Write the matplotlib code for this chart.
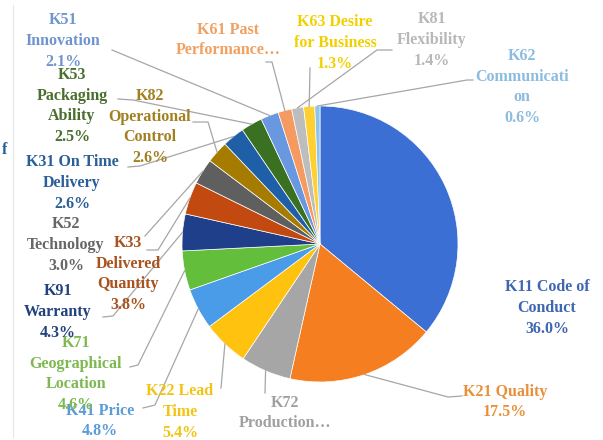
import numpy as np
import matplotlib
matplotlib.use("Agg")
import matplotlib.pyplot as plt

# ---- data (clockwise from 12 o'clock) ----
codes = ["K11", "K21", "K72", "K22", "K41", "K71", "K91", "K33", "K52",
         "K82", "K31", "K53", "K51", "K61", "K81", "K63", "K62"]
names = ["Code of\nConduct", "Quality", "\nProduction…", "Lead\nTime", "Price",
         "\nGeographical\nLocation", "\nWarranty", "\nDelivered\nQuantity",
         "\nTechnology", "\nOperational\nControl", "On Time\nDelivery",
         "\nPackaging\nAbility", "\nInnovation", "Past\nPerformance…",
         "\nFlexibility", "Desire\nfor Business", "\nCommunicati\non"]
values = [36.0, 17.5, 5.9, 5.4, 4.8, 4.6, 4.3, 3.8, 3.0,
          2.6, 2.6, 2.5, 2.1, 1.6, 1.4, 1.3, 0.6]
show_pct = [True, True, False, True, True, True, True, True, True,
            True, True, True, True, False, True, True, True]

slice_colors = ["#3B6FD4", "#F57F20", "#A6A6A6", "#FFC20E", "#4A9BE8",
                "#63BE3C", "#1F3F8A", "#C24A10", "#5F5F5F", "#A67C00",
                "#1F5FA8", "#3A7021", "#6A98E0", "#F59A60", "#BDBDBD",
                "#FFD030", "#8CC4EC"]
text_colors = ["#3F66B0", "#E8913A", "#A0A0A0", "#F2C414", "#5A9BD8",
               "#7DB851", "#22427E", "#A8521E", "#666666", "#A08020",
               "#2A5E96", "#4A6E2E", "#6F95CF", "#F0A060", "#B8B8B8",
               "#F2D000", "#8CBCE0"]

# ---- layout (pixel coordinates, y downwards) ----
W, H = 603, 440
center_px = (320, 244)
radius_px = 138
label_pos = [(547, 308), (505, 402), (285, 413), (180, 412), (100, 421),
             (76, 374), (58, 312), (128, 274), (66, 245), (150, 127),
             (72, 183), (72, 106), (63, 41), (228, 40), (432, 40),
             (335, 43), (522, 87)]
# leader line anchor points near the labels (None = no leader)
leader_pts = [None,
              [(462, 396), (448, 397)],
              [(265, 393)],
              [(221, 388)],
              [(143, 408), (155, 405)],
              [(130, 367), (138, 365)],
              [(103, 317), (113, 316)],
              [(147, 250), (158, 250)],
              [(145, 236)],
              [(193, 122), (208, 122)],
              [(128, 167), (140, 166)],
              [(118, 99), (133, 100)],
              [(112, 50)],
              [(266, 62), (272, 62)],
              [(392, 50), (377, 50)],
              [(310, 68)],
              [(473, 80), (467, 80)]]

def py(y):
    return H - y

fig = plt.figure(figsize=(W / 100, H / 100), dpi=100)
ax = fig.add_axes([0, 0, 1, 1])
cx, cy = center_px[0], py(center_px[1])
wedges, _ = ax.pie(values, colors=slice_colors, startangle=90, counterclock=False,
                   center=(cx, cy), radius=radius_px,
                   wedgeprops=dict(edgecolor="white", linewidth=0.5))
ax.set_xlim(0, W)
ax.set_ylim(0, H)
ax.set_aspect("equal")
ax.axis("off")

# labels and leader lines
for i, w in enumerate(wedges):
    mid = np.deg2rad((w.theta1 + w.theta2) / 2)
    ex = cx + radius_px * np.cos(mid)
    ey = cy + radius_px * np.sin(mid)
    txt = f"{codes[i]} {names[i]}" if not names[i].startswith("\n") else codes[i] + names[i]
    if show_pct[i]:
        txt += f"\n{values[i]:.1f}%"
    lx, ly = label_pos[i]
    ax.text(lx, py(ly), txt, ha="center", va="center", multialignment="center",
            fontsize=11.5, fontweight="bold", family="Liberation Serif",
            color=text_colors[i], linespacing=1.38, zorder=5)
    if leader_pts[i] is not None:
        xs = [p[0] for p in leader_pts[i]] + [ex]
        ys = [py(p[1]) for p in leader_pts[i]] + [ey]
        ax.plot(xs, ys, color="#A6A6A6", lw=0.9, zorder=1)

# fragment at the left edge and faint border line
ax.text(2, py(150), "f", ha="left", va="center", fontsize=11.5, fontweight="bold",
        family="Liberation Serif", color="#2A5E96")
ax.plot([13, 13], [py(5), py(437)], color="#E6E6E6", lw=0.8)

fig.savefig("out.png", dpi=100)
